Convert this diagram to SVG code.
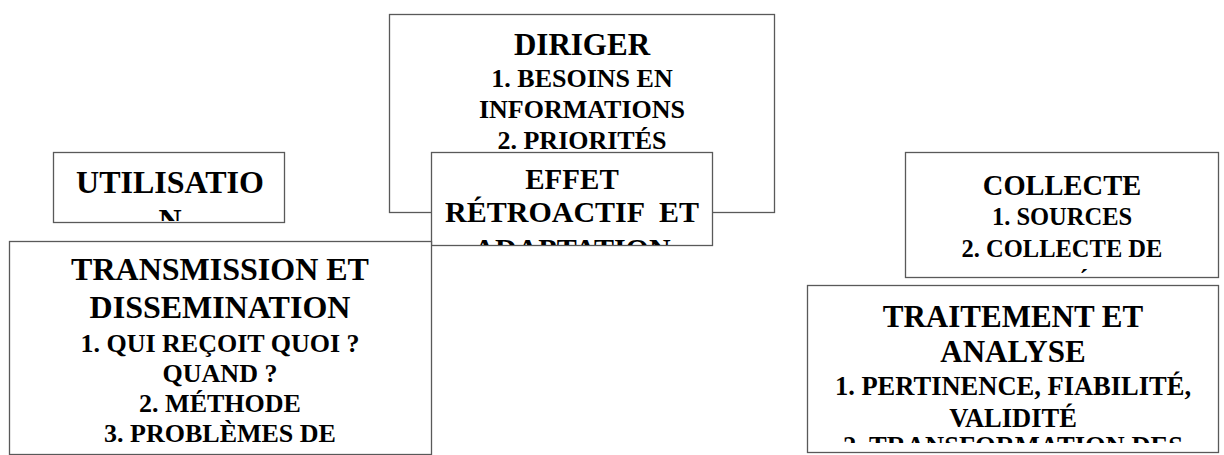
<svg xmlns="http://www.w3.org/2000/svg" width="1224" height="455" viewBox="0 0 1224 455">
<style>
.box{fill:#fff;stroke:#595959;stroke-width:1.3}
text{font-family:"Liberation Serif","Times New Roman",serif;font-weight:bold;fill:#000;text-anchor:middle}
</style>
<defs>
<clipPath id="cDir"><rect x="390" y="15" width="384" height="197"/></clipPath>
<clipPath id="cEff"><rect x="432" y="153" width="280" height="92"/></clipPath>
<clipPath id="cUti"><rect x="54" y="153" width="230" height="68"/></clipPath>
<clipPath id="cTra"><rect x="10" y="242" width="420" height="213"/></clipPath>
<clipPath id="cCol"><rect x="906" y="153" width="311" height="120"/></clipPath>
<clipPath id="cTrt"><rect x="808" y="286" width="410" height="157"/></clipPath>
</defs>
<g id="connectors"/>
<g id="diriger">
<rect class="box" x="389.5" y="14.5" width="385" height="198"/>
<g clip-path="url(#cDir)">
<text x="582" y="55" font-size="31">DIRIGER</text>
<text x="582" y="87" font-size="26">1. BESOINS EN</text>
<text x="582" y="118" font-size="26">INFORMATIONS</text>
<text x="582" y="148.5" font-size="26">2. PRIORITÉS</text>
</g>
</g>
<g id="effet">
<rect class="box" x="431.5" y="152.5" width="281" height="93"/>
<g clip-path="url(#cEff)">
<text x="572" y="189" font-size="29">EFFET</text>
<text x="572" y="221.5" font-size="30" xml:space="preserve">RÉTROACTIF  ET</text>
<text x="572" y="259" font-size="30">ADAPTATION</text>
</g>
</g>
<g id="utilisation">
<rect class="box" x="53.5" y="152.5" width="231" height="70"/>
<g clip-path="url(#cUti)">
<text x="170" y="193" font-size="32">UTILISATIO</text>
<text x="170" y="231" font-size="32">N</text>
</g>
</g>
<g id="transmission">
<rect class="box" x="9.5" y="241.5" width="422" height="213"/>
<g clip-path="url(#cTra)">
<text x="220" y="280" font-size="32">TRANSMISSION ET</text>
<text x="220" y="318" font-size="32">DISSEMINATION</text>
<text x="220" y="352" font-size="26">1. QUI REÇOIT QUOI ?</text>
<text x="220" y="381.5" font-size="26">QUAND ?</text>
<text x="220" y="411.5" font-size="26">2. MÉTHODE</text>
<text x="220" y="441.5" font-size="26">3. PROBLÈMES DE</text>
</g>
</g>
<g id="collecte">
<rect class="box" x="905.5" y="152.5" width="313" height="125"/>
<g clip-path="url(#cCol)">
<text x="1062" y="195" font-size="28.5">COLLECTE</text>
<text x="1062" y="225" font-size="24.5">1. SOURCES</text>
<text x="1062" y="256.5" font-size="24.5">2. COLLECTE DE</text>
<text x="1062" y="291" font-size="24.5">DONNÉES</text>
</g>
</g>
<g id="traitement">
<rect class="box" x="807.5" y="285.5" width="411" height="167"/>
<g clip-path="url(#cTrt)">
<text x="1013" y="327" font-size="31">TRAITEMENT ET</text>
<text x="1013" y="362" font-size="31">ANALYSE</text>
<text x="1013" y="395" font-size="26.5">1. PERTINENCE, FIABILITÉ,</text>
<text x="1013" y="426.5" font-size="26.5">VALIDITÉ</text>
<text x="1013" y="455" font-size="26.5">2. TRANSFORMATION DES</text>
</g>
</g>
</svg>
